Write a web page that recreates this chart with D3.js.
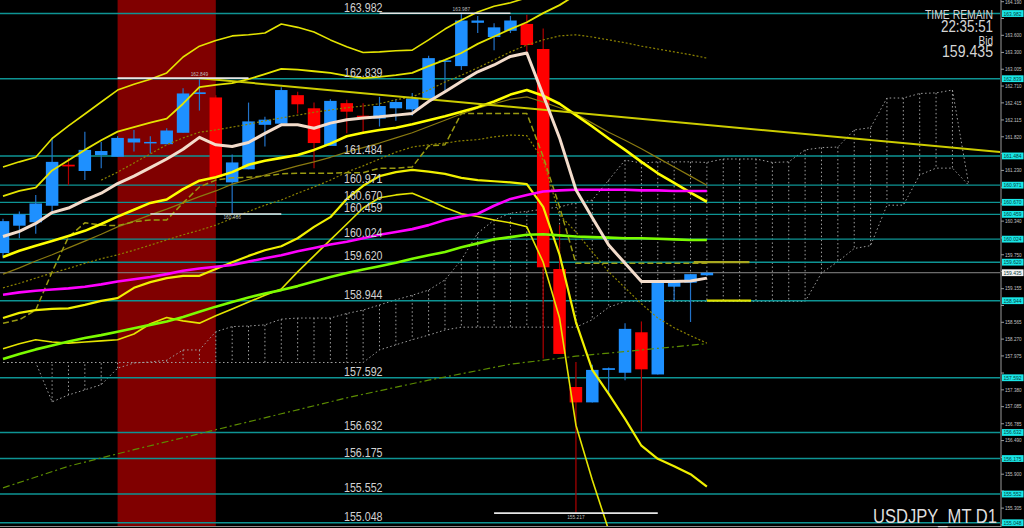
<!DOCTYPE html>
<html>
<head>
<meta charset="utf-8">
<script src="https://cdn.jsdelivr.net/npm/d3@7"></script>
<style>
  html, body { margin: 0; background: #000; overflow: hidden; }
  svg { display: block; }
  text { font-family: "Liberation Sans", Arial, sans-serif; }
</style>
</head>
<body>
<svg id="chart" width="1024" height="528"></svg>
<script>
// daily candles, USDJPY
const opens  = [159.78,160.26,160.32,160.61,161.33,161.22,161.50,161.47,161.72,161.72,161.69,161.89,162.57,162.51,161.02,161.25,162.03,162.05,162.55,162.32,161.66,162.41,162.19,162.14,162.32,162.30,162.47,163.14,163.06,163.82,163.57,163.68,163.80,163.36,159.50,157.43,157.16,157.73,157.68,158.39,157.65,159.19,159.26,159.39];
const highs  = [160.38,160.51,160.80,161.79,161.45,161.91,161.73,161.83,161.94,161.83,161.97,162.67,162.849,162.55,161.51,162.42,162.17,162.69,162.61,162.42,162.48,162.47,162.41,162.52,162.48,162.59,163.24,163.16,163.987,163.94,163.81,163.94,163.96,163.72,160.27,157.87,157.82,157.77,158.55,158.58,159.29,159.29,159.41,159.44];
const lows   = [159.69,160.04,160.12,160.51,160.97,161.06,161.27,161.47,161.56,161.53,161.69,161.89,162.28,160.59,160.466,161.25,161.65,162.05,162.23,161.27,161.66,161.88,161.88,162.00,162.10,162.19,162.47,162.61,162.99,163.64,163.34,163.64,163.31,157.93,158.01,155.217,157.16,157.29,157.55,156.65,157.65,158.93,158.57,159.39];
const closes = [160.34,160.46,160.65,161.38,161.30,161.59,161.57,161.80,161.79,161.73,161.93,162.58,162.60,161.11,161.37,162.09,162.12,162.64,162.39,161.71,162.45,162.26,162.17,162.36,162.43,162.49,163.20,163.16,163.86,163.86,163.74,163.86,163.43,159.53,158.01,157.16,157.73,157.76,158.45,157.74,159.29,159.29,159.41,159.435];

// moving averages
const maFast = [160.07,160.16,160.30,160.49,160.57,160.71,160.83,161.00,161.13,161.28,161.43,161.60,161.81,161.68,161.65,161.72,161.88,162.03,162.03,161.97,162.06,162.12,162.15,162.17,162.20,162.23,162.44,162.61,162.79,162.96,163.08,163.23,163.29,162.55,161.80,160.89,160.40,159.92,159.60,159.28,159.28,159.28,159.29,159.34];
const maMagenta = [159.05,159.09,159.12,159.14,159.16,159.19,159.23,159.28,159.32,159.36,159.41,159.47,159.51,159.54,159.57,159.63,159.69,159.74,159.81,159.87,159.93,159.98,160.04,160.10,160.15,160.20,160.27,160.36,160.42,160.47,160.61,160.73,160.80,160.86,160.88,160.89,160.89,160.89,160.89,160.88,160.88,160.87,160.87,160.87];
const maGreen = [157.92,158.01,158.09,158.16,158.23,158.29,158.34,158.40,158.46,158.52,158.58,158.66,158.75,158.84,158.92,159.00,159.07,159.13,159.20,159.28,159.36,159.43,159.49,159.55,159.61,159.68,159.74,159.80,159.88,159.95,160.02,160.06,160.10,160.11,160.09,160.07,160.06,160.05,160.04,160.04,160.03,160.02,160.01,160.01];
const maLongIdx = [0,4,8,13,17,21,26,31,35,39,43];
const maLong = [155.66,156.04,156.33,156.68,156.96,157.24,157.55,157.83,157.97,158.08,158.19];

// bollinger bands
const bbMid = [159.71,159.82,159.91,159.99,160.08,160.17,160.29,160.42,160.54,160.66,160.72,160.90,161.05,161.11,161.20,161.33,161.40,161.45,161.50,161.59,161.70,161.83,161.89,161.94,161.98,162.04,162.11,162.18,162.26,162.34,162.44,162.56,162.64,162.54,162.40,162.20,162.00,161.79,161.59,161.38,161.18,161.01,160.84,160.68];
const bbUp1 = [160.78,160.87,160.93,161.23,161.41,161.59,161.76,161.91,161.99,162.07,162.14,162.40,162.69,162.73,162.76,162.83,162.92,163.01,163.00,162.97,162.94,162.89,162.85,162.87,162.90,162.94,163.06,163.17,163.29,163.45,163.58,163.71,163.83,163.99,164.13,164.31,164.48];
const bbUp2 = [161.29,161.38,161.46,161.79,162.01,162.22,162.43,162.64,162.74,162.83,162.94,163.22,163.41,163.51,163.59,163.61,163.64,163.80,163.74,163.66,163.52,163.40,163.30,163.31,163.33,163.34,163.52,163.71,163.87,164.01,164.11,164.17,164.26,164.57];
const bbLo1 = [158.64,158.73,158.78,158.80,158.81,158.87,158.94,158.99,159.17,159.27,159.34,159.38,159.38,159.50,159.62,159.73,159.83,159.90,160.04,160.24,160.41,160.73,160.96,161.13,161.20,161.24,161.21,161.17,161.10,161.06,161.04,161.02,160.99,160.59,159.75,158.57,157.73,157.31,156.87,156.40,156.17,156.04,155.90,155.68];
const bbLo2 = [158.10,158.19,158.26,158.22,158.20,158.22,158.24,158.26,158.36,158.54,158.65,158.59,158.55,158.68,158.80,158.92,159.04,159.15,159.45,159.73,160.01,160.29,160.57,160.75,160.80,160.83,160.71,160.58,160.47,160.42,160.36,160.31,160.24,159.62,158.64,156.76,155.80,154.92];

// olive guide lines
const oliveSolid = [159.41,159.52,159.64,159.75,159.87,159.99,160.11,160.24,160.34,160.45,160.55,160.66,160.77,160.87,160.99,161.07,161.15,161.23,161.31,161.38,161.46,161.55,161.63,161.71,161.80,161.89,162.00,162.11,162.22,162.32,162.40,162.48,162.52,162.43,162.33,162.22,162.06,161.90,161.76,161.61,161.45,161.29,161.13,160.97];
const oliveDotLow = [159.17,159.25,159.34,159.43,159.51,159.60,159.68,159.75,159.83,159.92,160.01,160.10,160.18,160.27,160.39,160.51,160.62,160.71,160.83,160.94,161.06,161.20,161.31,161.43,161.55,161.64,161.68,161.71,161.75,161.77,161.82,161.85,161.84,161.41,160.45,160.15,159.80,159.45,159.17,158.89,158.64,158.47,158.33,158.20];
const oliveDotHigh = [null,null,null,null,null,null,161.06,161.20,161.36,161.52,161.68,161.80,161.90,161.94,161.99,162.04,162.10,162.15,162.20,162.25,162.29,162.33,162.36,162.40,162.47,162.52,162.64,162.78,162.90,163.03,163.17,163.31,163.43,163.52,163.59,163.61,163.57,163.52,163.47,163.41,163.36,163.31,163.26,163.20];
const kijun = [158.55,158.61,158.78,159.45,160.06,160.31,160.27,160.26,160.33,160.36,160.36,160.66,160.94,161.06,161.10,161.11,161.13,161.17,161.18,161.18,161.18,161.19,161.19,161.27,161.27,161.29,161.66,161.68,162.23,162.23,162.23,162.23,162.23,161.47,160.59,159.60,159.60,159.60,159.60,159.60,159.60,159.60,159.60,159.60];

// ichimoku cloud (runs 16 bars past the last candle)
const spanA = [157.86,157.86,157.86,157.17,157.29,157.38,157.47,157.76,157.85,157.87,157.90,158.08,158.08,158.40,158.49,158.50,158.52,158.62,158.64,158.64,158.64,158.72,158.78,158.87,158.96,159.04,159.13,159.31,159.66,160.13,160.36,160.48,160.51,160.55,160.59,160.66,160.71,161.06,161.41,161.36,161.38,161.38,161.38,161.37,161.43,161.43,161.43,161.37,161.38,161.59,161.63,161.64,161.94,161.98,162.50,162.50,162.58,162.59,162.64,160.97];
const spanB = [157.86,157.86,157.86,157.86,157.86,157.86,157.86,157.86,157.86,157.86,157.86,157.86,157.86,157.86,157.86,157.86,157.86,157.86,157.86,157.86,157.86,157.86,157.86,158.08,158.17,158.26,158.34,158.43,158.48,158.48,158.48,158.48,158.48,158.48,158.48,158.48,158.61,158.83,158.93,158.93,158.93,158.93,158.93,158.93,158.93,158.93,158.93,158.93,158.93,158.93,159.43,159.63,159.86,159.91,160.62,160.62,161.15,161.27,161.27,160.97];

// horizontal levels and markers
const levels = [163.982,162.839,161.484,160.971,160.670,160.459,160.024,159.620,158.944,157.592,156.632,156.175,155.552,155.048];
const bid = 159.435;
const extremes = [
  { i: 12, v: 162.849, kind: "high", back: 5, fwd: 3 },
  { i: 14, v: 160.466, kind: "low", back: 5, fwd: 3 },
  { i: 28, v: 163.987, kind: "high", back: 5, fwd: 3 },
  { i: 35, v: 155.217, kind: "low", back: 5, fwd: 5 }
];
const trendPts = [[12, 162.849], [58, 161.63]];
const stubs = [
  { v: 159.62, from: 42.2, to: 45.6, color: "#a8a820" },
  { v: 158.944, from: 43, to: 45.7, color: "#e0e000" }
];
const shadeFrom = 7, shadeTo = 13;
const axisTicks = ["164.190","163.895","163.600","163.300","163.005","162.710","162.415","162.115","161.820","161.525","161.230","160.935","160.640","160.340","160.045","159.750","159.455","159.155","158.860","158.565","158.270","157.975","157.675","157.380","157.085","156.785","156.490","156.195","155.900","155.605","155.305","155.010"];

const svg = d3.select("#chart");
const plotW = 1000, plotH = 526;

const x = d3.scaleLinear().domain([0, 59]).range([3, 968.8]);
const y = d3.scaleLinear().domain([155.0, 164.19]).range([525.5, 1.7]);
const bodyW = 12.5;

svg.append("rect").attr("width", 1024).attr("height", 528).attr("fill", "#000");

svg.append("defs").append("clipPath").attr("id", "plot")
  .append("rect").attr("width", plotW).attr("height", plotH);

const g = svg.append("g").attr("clip-path", "url(#plot)");

// shaded period
g.append("rect")
  .attr("x", x(shadeFrom)).attr("y", 0)
  .attr("width", x(shadeTo) - x(shadeFrom)).attr("height", plotH)
  .attr("fill", "#800000");

// helper for index-aligned series
const toPts = (arr, offset = 0) => arr.map((v, i) => [i + offset, v]);
const line = d3.line().defined(d => d[1] != null).x(d => x(d[0])).y(d => y(d[1]));
const drawLine = (pts, color, width, dash) => {
  const p = g.append("path").attr("d", line(pts))
    .attr("fill", "none").attr("stroke", color).attr("stroke-width", width)
    .attr("stroke-linejoin", "round");
  if (dash) p.attr("stroke-dasharray", dash);
  return p;
};

// cloud hatch
spanA.forEach((a, i) => {
  if (Math.abs(a - spanB[i]) < 0.01) return;
  g.append("line")
    .attr("x1", x(i)).attr("x2", x(i))
    .attr("y1", y(a)).attr("y2", y(spanB[i]))
    .attr("stroke", "#a0a0a0").attr("stroke-width", 1)
    .attr("stroke-dasharray", "1.5,2.5");
});
drawLine(toPts(spanA), "#a0a0a0", 1, "1.5,2.5");
drawLine(toPts(spanB), "#a0a0a0", 1, "1.5,2.5");

// levels
levels.forEach(v => {
  g.append("line").attr("x1", 0).attr("x2", plotW)
    .attr("y1", y(v)).attr("y2", y(v))
    .attr("stroke", "#0e9494").attr("stroke-width", 1.4);
});
g.append("line").attr("x1", 0).attr("x2", plotW)
  .attr("y1", y(bid)).attr("y2", y(bid))
  .attr("stroke", "#8a8a8a").attr("stroke-width", 1);

// candles
const candles = g.append("g");
opens.forEach((o, i) => {
  const c = closes[i], up = c >= o;
  candles.append("line")
    .attr("x1", x(i)).attr("x2", x(i))
    .attr("y1", y(highs[i])).attr("y2", y(lows[i]))
    .attr("stroke", up ? "#2272c8" : "#b00000").attr("stroke-width", 1.2);
  const top = y(Math.max(o, c)), bot = y(Math.min(o, c));
  candles.append("rect")
    .attr("x", x(i) - bodyW / 2).attr("y", top)
    .attr("width", bodyW).attr("height", Math.max(1.5, bot - top))
    .attr("fill", up ? "#1e90ff" : "#ff0000");
});

// indicator lines
const longLine = maLong.map((v, k) => [maLongIdx[k], v]);
drawLine(longLine, "#5c8c00", 1.2, "7,3,2,3");
drawLine(toPts(oliveDotLow), "#8c8200", 1.2, "2,2");
drawLine(toPts(oliveDotHigh), "#8c8200", 1.2, "2,2");
drawLine(toPts(oliveSolid), "#8a7a10", 1.2);
drawLine(toPts(kijun), "#9a9a10", 1.5, "6,3");

drawLine(toPts(bbUp2), "#e4e400", 1.6);
drawLine(toPts(bbUp1), "#e4e400", 1.8);
drawLine(toPts(bbLo2), "#e4e400", 1.6);
drawLine(toPts(bbLo1), "#f0f000", 2.2);
drawLine(toPts(bbMid), "#ffff00", 2.6);

// trend line, extended to the right edge
const slope = (trendPts[1][1] - trendPts[0][1]) / (trendPts[1][0] - trendPts[0][0]);
const iEnd = x.invert(plotW);
drawLine([trendPts[0], [iEnd, trendPts[0][1] + slope * (iEnd - trendPts[0][0])]], "#cccc00", 2);

stubs.forEach(s => drawLine([[s.from, s.v], [s.to, s.v]], s.color, 2.2));

drawLine(toPts(maGreen), "#7cfc00", 2.6);
drawLine(toPts(maMagenta), "#ff00ff", 2.6);
drawLine(toPts(maFast), "#f3dccb", 3);

// high / low markers
extremes.forEach(e => {
  g.append("line")
    .attr("x1", x(e.i - e.back)).attr("x2", x(e.i + e.fwd))
    .attr("y1", y(e.v)).attr("y2", y(e.v))
    .attr("stroke", "#e6e6e6").attr("stroke-width", 1.6);
  g.append("text")
    .attr("x", x(e.i)).attr("y", e.kind === "high" ? y(e.v) - 1.8 : y(e.v) + 5.5)
    .attr("text-anchor", "middle")
    .attr("font-size", 6).attr("fill", "#bdbdbd")
    .attr("textLength", 17.5).attr("lengthAdjust", "spacingAndGlyphs")
    .text(d3.format(".3f")(e.v));
});

// level captions
levels.forEach(v => {
  g.append("text")
    .attr("x", 344).attr("y", y(v) - 2)
    .attr("font-size", 12).attr("fill", "#d2d2d2")
    .attr("textLength", 38.5).attr("lengthAdjust", "spacingAndGlyphs")
    .text(d3.format(".3f")(v));
});

// bottom border
svg.append("line").attr("x1", 0).attr("x2", plotW + 1)
  .attr("y1", 526.5).attr("y2", 526.5)
  .attr("stroke", "#8a8a8a").attr("stroke-width", 1.2);

// right price axis
const axis = svg.append("g");
axis.append("line").attr("x1", 1001).attr("x2", 1001)
  .attr("y1", 0).attr("y2", 527)
  .attr("stroke", "#9a9a9a").attr("stroke-width", 1);
const tagged = levels.concat([bid]);
axisTicks.forEach(t => {
  const yy = y(+t);
  axis.append("line").attr("x1", 1001).attr("x2", 1004)
    .attr("y1", yy).attr("y2", yy).attr("stroke", "#9a9a9a");
  // labels that sit under a price tag are hidden, as on the terminal
  if (tagged.some(v => Math.abs(y(v) - yy) < 6.5)) return;
  axis.append("text")
    .attr("x", 1005).attr("y", yy + 1.8)
    .attr("font-size", 5.2).attr("fill", "#c4c4c4")
    .attr("textLength", 16.5).attr("lengthAdjust", "spacingAndGlyphs")
    .text(t);
});
const tag = (v, bg) => {
  axis.append("rect")
    .attr("x", 1002).attr("y", y(v) - 3.4)
    .attr("width", 21.5).attr("height", 6.8).attr("fill", bg);
  axis.append("text")
    .attr("x", 1003.5).attr("y", y(v) + 2)
    .attr("font-size", 5.6).attr("fill", "#0a3a3a")
    .attr("textLength", 18).attr("lengthAdjust", "spacingAndGlyphs")
    .text(d3.format(".3f")(v));
};
levels.forEach(v => tag(v, "#19e6e6"));
tag(bid, "#f2f2f2");

// info text
const info = [
  { t: "TIME REMAIN", yb: 19.3, size: 13.5, w: 68 },
  { t: "22:35:51", yb: 31.7, size: 17, w: 52 },
  { t: "Bid", yb: 45, size: 12.5, w: 14.5 },
  { t: bid.toFixed(3), yb: 56.7, size: 16.5, w: 51 }
];
info.forEach(d => {
  svg.append("text")
    .attr("x", 993).attr("y", d.yb).attr("text-anchor", "end")
    .attr("font-size", d.size).attr("fill", "#d6d6d6")
    .attr("textLength", d.w).attr("lengthAdjust", "spacingAndGlyphs")
    .text(d.t);
});
svg.append("text")
  .attr("x", 997).attr("y", 523.3).attr("text-anchor", "end")
  .attr("font-size", 20).attr("fill", "#dedede")
  .attr("textLength", 124).attr("lengthAdjust", "spacingAndGlyphs")
  .text("USDJPY_MT D1");
</script>
</body>
</html>
